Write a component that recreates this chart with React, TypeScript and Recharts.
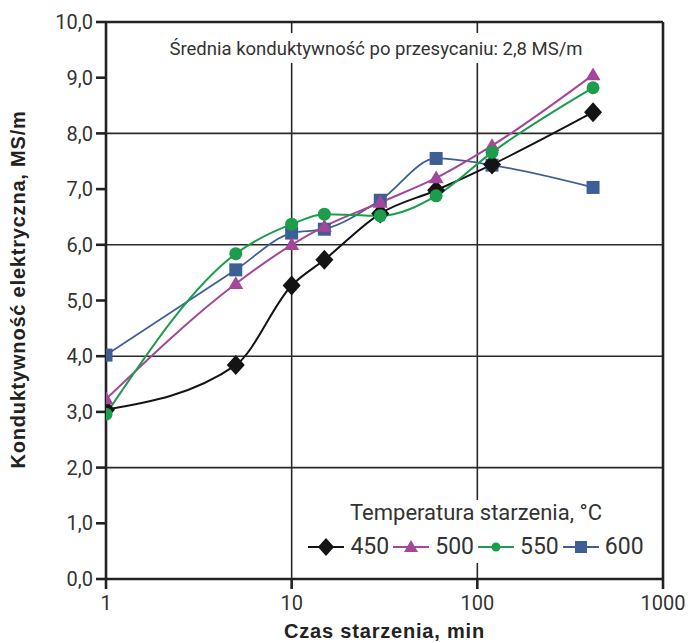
import React from "react";
import { LineChart, Line, XAxis, YAxis, ReferenceLine, Label } from "recharts";

// czas starzenia, min
const times = [1, 5, 10, 15, 30, 60, 120, 420];
// konduktywnosc, MS/m dla temperatur starzenia
const c450 = [3.04, 3.84, 5.27, 5.73, 6.56, 6.98, 7.44, 8.38];
const c500 = [3.23, 5.3, 6.0, 6.33, 6.76, 7.2, 7.78, 9.05];
const c550 = [2.96, 5.84, 6.37, 6.55, 6.52, 6.88, 7.66, 8.82];
const c600 = [4.02, 5.55, 6.21, 6.28, 6.8, 7.55, 7.43, 7.03];

const xTicks = [1, 10, 100, 1000];
const yTicks = [0, 1, 2, 3, 4, 5, 6, 7, 8, 9, 10];
const gridY = [2, 4, 6, 8];
const gridX = [10, 100];

const data = times.map((t, i) => ({
  t,
  s450: c450[i],
  s500: c500[i],
  s550: c550[i],
  s600: c600[i],
}));

const AXIS = "#222";
const TXT = "#333";

type Shape = "diamond" | "triangle" | "circle" | "square";

const marker = (shape: Shape, x: number, y: number, s: number, fill: string) => {
  if (shape === "diamond")
    return <path d={`M${x},${y - s} L${x + s * 0.9},${y} L${x},${y + s} L${x - s * 0.9},${y} Z`} fill={fill} />;
  if (shape === "triangle")
    return <path d={`M${x},${y - s} L${x + s},${y + s * 0.7} L${x - s},${y + s * 0.7} Z`} fill={fill} />;
  if (shape === "circle") return <circle cx={x} cy={y} r={s} fill={fill} />;
  return <rect x={x - s} y={y - s} width={s * 2} height={s * 2} fill={fill} />;
};

const series = [
  { key: "s450", name: "450", color: "#141414", shape: "diamond" as Shape, size: 10, legendSize: 9, width: 2 },
  { key: "s500", name: "500", color: "#a3479a", shape: "triangle" as Shape, size: 7.5, legendSize: 7, width: 2 },
  { key: "s550", name: "550", color: "#1b9d4c", shape: "circle" as Shape, size: 6.5, legendSize: 4.5, width: 2 },
  { key: "s600", name: "600", color: "#3d5f95", shape: "square" as Shape, size: 6.5, legendSize: 6, width: 1.8 },
];

// kolejnosc rysowania: niebieska pod czarna
const drawOrder = ["s600", "s450", "s500", "s550"];

const makeDot = (shape: Shape, color: string, size: number) => (p: any) => (
  <g key={`dot-${shape}-${p.index}`}>{marker(shape, p.cx, p.cy, size, color)}</g>
);

const labelStyle = { fontFamily: "Liberation Sans", fontWeight: 700, fontSize: 20, letterSpacing: 0.8, fill: AXIS };

const YLabel = (props: any) => {
  const vb = props.viewBox || { y: 14, height: 557 };
  const cy = vb.y + vb.height / 2 - 11;
  return (
    <text
      x={10}
      y={cy}
      transform={`rotate(-90 10 ${cy})`}
      textAnchor="middle"
      dy="0.35em"
      style={labelStyle}
    >
      Konduktywność elektryczna, MS/m
    </text>
  );
};

const fmt = (v: number) => v.toFixed(1).replace(".", ",");

export default function App() {
  return (
    <div style={{ position: "relative", width: 685, height: 635 }}>
      <LineChart width={685} height={635} data={data} margin={{ top: 14, right: 30, left: 0, bottom: 0 }}>
        {gridY.map((v) => (
          <ReferenceLine key={`gy${v}`} y={v} stroke="#2a2a2a" strokeWidth={1.6} />
        ))}
        {gridX.map((v) => (
          <ReferenceLine key={`gx${v}`} x={v} stroke="#2a2a2a" strokeWidth={1.6} />
        ))}
        <ReferenceLine y={10} stroke={AXIS} strokeWidth={2.6} />
        <ReferenceLine x={1000} stroke={AXIS} strokeWidth={2.6} />
        <XAxis
          type="number"
          dataKey="t"
          scale="log"
          domain={[1, 1000]}
          ticks={xTicks}
          interval={0}
          allowDataOverflow
          height={64}
          tickSize={10}
          tickMargin={7}
          tick={{ fill: TXT, fontSize: 20, fontFamily: "Roboto" }}
          axisLine={{ stroke: AXIS, strokeWidth: 2.6 }}
          tickLine={{ stroke: AXIS, strokeWidth: 2.6 }}
        >
          <Label value="Czas starzenia, min" position="insideBottom" offset={5} style={labelStyle} />
        </XAxis>
        <YAxis
          type="number"
          domain={[0, 10]}
          ticks={yTicks}
          interval={0}
          width={98}
          tickSize={10}
          tickMargin={3}
          tickFormatter={fmt}
          tick={{ fill: TXT, fontSize: 20, fontFamily: "Roboto" }}
          axisLine={{ stroke: AXIS, strokeWidth: 2.6 }}
          tickLine={{ stroke: AXIS, strokeWidth: 2.6 }}
        >
          <Label content={YLabel} />
        </YAxis>
        {drawOrder.map((k) => {
          const s = series.find((x) => x.key === k)!;
          return (
            <Line
              key={s.key}
              dataKey={s.key}
              name={s.name}
              type="monotone"
              stroke={s.color}
              strokeWidth={s.width}
              dot={makeDot(s.shape, s.color, s.size)}
              activeDot={false}
              isAnimationActive={false}
            />
          );
        })}
      </LineChart>

      <div
        style={{
          position: "absolute",
          left: 158,
          top: 25,
          width: 420,
          height: 30,
          background: "#fff",
          textAlign: "center",
          lineHeight: "32px",
          fontFamily: "Roboto",
          fontSize: 18.5,
          color: TXT,
          whiteSpace: "nowrap",
        }}
      >
        Średnia konduktywność po przesycaniu: 2,8 MS/m
      </div>

      <div
        style={{
          position: "absolute",
          left: 288,
          top: 492,
          width: 360,
          height: 63,
          background: "#fff",
          fontFamily: "Roboto",
          color: TXT,
        }}
      >
        <div style={{ textAlign: "center", fontSize: 22, lineHeight: "26px", whiteSpace: "nowrap" }}>
          Temperatura starzenia, °C
        </div>
        <div style={{ display: "flex", justifyContent: "center", alignItems: "center", marginTop: 8, height: 26 }}>
          {series.map((s, i) => (
            <div key={s.key} style={{ display: "flex", alignItems: "center", marginLeft: i === 0 ? 0 : 4 }}>
              <svg width={36} height={24}>
                <line x1={0} y1={12} x2={36} y2={12} stroke={s.color} strokeWidth={2} />
                {marker(s.shape, 18, 12, s.legendSize, s.color)}
              </svg>
              <span style={{ marginLeft: 6, fontSize: 23, lineHeight: "26px" }}>{s.name}</span>
            </div>
          ))}
        </div>
      </div>
    </div>
  );
}
